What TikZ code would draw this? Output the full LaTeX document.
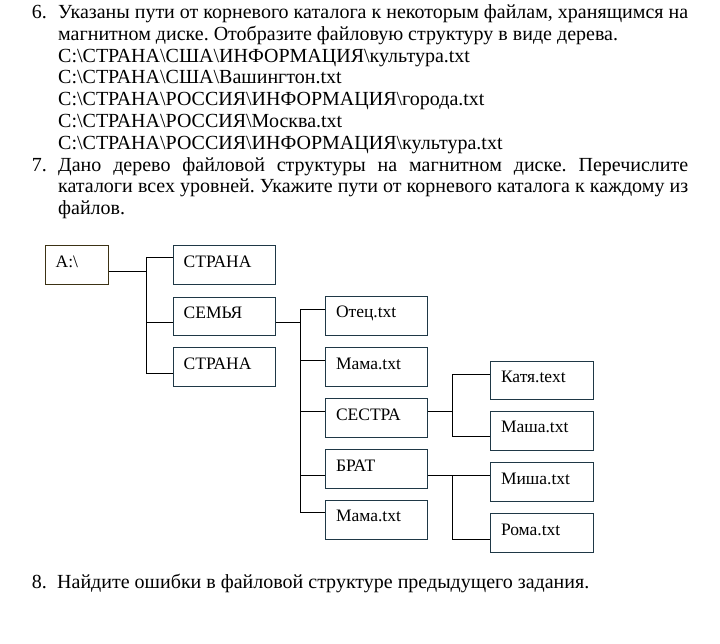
\documentclass[tikz,border=0pt]{standalone}
\usepackage{fontspec}
\setmainfont{Liberation Serif}
\frenchspacing
\definecolor{boxline}{RGB}{31,56,70}
\definecolor{rootline}{RGB}{60,50,20}
\tikzset{
  txt/.style={anchor=base west,inner sep=0pt,font=\fontsize{20}{21.8}\selectfont},
  fbox/.style={draw=boxline,line width=1pt,anchor=north west,inner xsep=10.5pt,inner ysep=0pt,
    text width=81pt,align=left,text height=21.4pt,text depth=17.3pt,font=\fontsize{17.5}{19}\selectfont},
  wire/.style={draw=black,line width=1pt,line cap=butt,line join=miter}
}
\begin{document}
\begin{tikzpicture}[x=1pt,y=-1pt]
% 720 x 644, page of a task sheet
\useasboundingbox (0,0) rectangle (720,644);
% task 6
\node[txt] (n6) at (31.7,18.5) {6.};
\node[txt] (p6a) at (58,18.5) {Указаны пути от корневого каталога к некоторым файлам, хранящимся на};
\node[txt] (p6b) at (58,40.3) {магнитном диске. Отобразите файловую структуру в виде дерева.};
\node[txt] (p6c) at (58,62.1) {C:\textbackslash СТРАНА\textbackslash США\textbackslash ИНФОРМАЦИЯ\textbackslash культура.txt};
\node[txt] (p6d) at (58,83.9) {C:\textbackslash СТРАНА\textbackslash США\textbackslash Вашингтон.txt};
\node[txt] (p6e) at (58,105.7) {C:\textbackslash СТРАНА\textbackslash РОССИЯ\textbackslash ИНФОРМАЦИЯ\textbackslash города.txt};
\node[txt] (p6f) at (58,127.5) {C:\textbackslash СТРАНА\textbackslash РОССИЯ\textbackslash Москва.txt};
\node[txt] (p6g) at (58,149.3) {C:\textbackslash СТРАНА\textbackslash РОССИЯ\textbackslash ИНФОРМАЦИЯ\textbackslash культура.txt};
% task 7
\node[txt] (n7) at (31.7,171.1) {7.};
\node[txt] (p7a) at (58,171.1) {\makebox[630pt][s]{Дано дерево файловой структуры на магнитном диске. Перечислите}};
\node[txt] (p7b) at (58,192.9) {\makebox[630pt][s]{каталоги всех уровней. Укажите пути от корневого каталога к каждому из}};
\node[txt] (p7c) at (58,214.7) {файлов.};
% tree
\node[fbox,draw=rootline,text width=42.6pt] (root) at (44.7,245.3) {A:\textbackslash};
\node[fbox] (land1) at (172.7,245.3) {СТРАНА};
\node[fbox] (fam) at (172.7,296.7) {СЕМЬЯ};
\node[fbox] (land2) at (172.7,347.3) {СТРАНА};
\node[fbox] (dad) at (325,296) {Отец.txt};
\node[fbox] (mom1) at (325,347.3) {Мама.txt};
\node[fbox] (sis) at (325,398.3) {СЕСТРА};
\node[fbox] (bro) at (325,449.3) {БРАТ};
\node[fbox] (mom2) at (325,500) {Мама.txt};
\node[fbox,text width=82pt] (katya) at (490,360.7) {Катя.text};
\node[fbox,text width=82pt] (masha) at (490,411) {Маша.txt};
\node[fbox,text width=82pt] (misha) at (490,462.3) {Миша.txt};
\node[fbox,text width=82pt] (roma) at (490,513.3) {Рома.txt};
% buses
\coordinate (busA) at (146,0);
\coordinate (busB) at (300,0);
\coordinate (busC) at (452.3,0);
\draw[wire] (root.east |- 0,271.7) -- (busA |- 0,271.7);
\draw[wire] (land1.west |- 0,258) -| (busA |- 0,373) -- (land2.west |- 0,373);
\draw[wire] (fam.west |- 0,322.7) -- (busA |- 0,322.7);
\draw[wire] (fam.east |- 0,322.7) -- (busB |- 0,322.7);
\draw[wire] (dad.west |- 0,309.3) -| (busB |- 0,512.3) -- (mom2.west |- 0,512.3);
\draw[wire] (mom1.west |- 0,360) -- (busB |- 0,360);
\draw[wire] (sis.west |- 0,411) -- (busB |- 0,411);
\draw[wire] (bro.west |- 0,475) -- (busB |- 0,475);
\draw[wire] (sis.east |- 0,411) -- (busC |- 0,411);
\draw[wire] (katya.west |- 0,374) -| (busC |- 0,436.7) -- (masha.west |- 0,436.7);
\draw[wire] (bro.east |- 0,475) -- (misha.west |- 0,475);
\draw[wire] (busC |- 0,475) |- (roma.west |- 0,539);
% task 8
\node[txt] (n8) at (31.7,588) {8.};
\node[txt] (p8) at (57,588) {Найдите ошибки в файловой структуре предыдущего задания.};
\end{tikzpicture}
\end{document}
